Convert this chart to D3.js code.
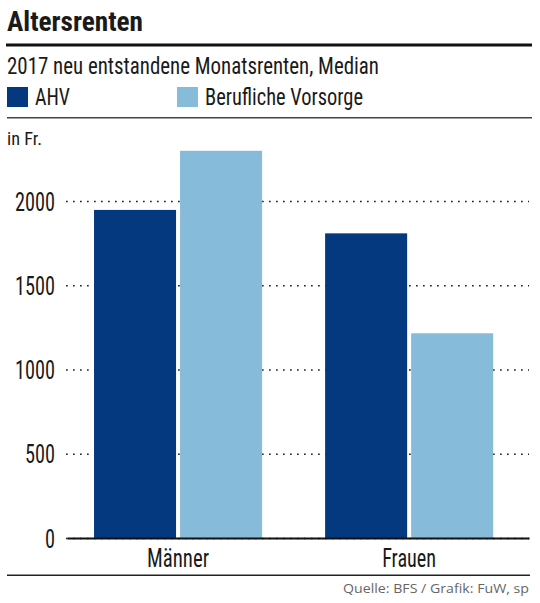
<!DOCTYPE html>
<html>
<head>
<meta charset="utf-8">
<script src="https://cdn.jsdelivr.net/npm/d3@7"></script>
<style>
  body { margin: 0; background: #fff; }
  svg { display: block; }
  .cond { font-family: "Liberation Sans Narrow", "Roboto Condensed", "Liberation Sans", Arial, sans-serif; fill: #1a1a1a; }
</style>
</head>
<body>
<svg id="chart" width="540" height="603"></svg>
<script>
// data
var groups = ["Männer", "Frauen"];
var series = ["AHV", "Berufliche Vorsorge"];
var ahvValues = [1947, 1808];
var bvValues = [2298, 1215];
var yTicks = [0, 500, 1000, 1500, 2000];
var colors = ["#04387f", "#86bbda"];

var svg = d3.select("#chart");

var params = {
  plot: { left: 67, right: 529, top: 201, bottom: 538 }
};

var rows = groups.map(function(g, i) {
  return { group: g, values: [
    { key: series[0], value: ahvValues[i] },
    { key: series[1], value: bvValues[i] }
  ]};
});

var scale = {
  x: d3.scaleBand()
    .domain(groups)
    .range([params.plot.left, params.plot.right])
    .paddingInner(0.2727)
    .paddingOuter(0.136)
    .align(0.43),
  y: d3.scaleLinear()
    .domain([0, 2000])
    .range([params.plot.bottom, params.plot.top]),
  color: d3.scaleOrdinal().domain(series).range(colors)
};
scale.x1 = d3.scaleBand()
  .domain(series)
  .range([0, scale.x.bandwidth()])
  .paddingInner(0.0465);

// header
svg.append("text")
  .attr("class", "cond")
  .attr("x", 7).attr("y", 31)
  .attr("font-size", 28).attr("font-weight", "bold")
  .attr("textLength", 136).attr("lengthAdjust", "spacingAndGlyphs")
  .text("Altersrenten");

svg.append("rect")
  .attr("x", 6).attr("y", 43.5).attr("width", 526).attr("height", 3)
  .attr("fill", "#111");

svg.append("text")
  .attr("class", "cond")
  .attr("x", 7).attr("y", 74)
  .attr("font-size", 24)
  .attr("textLength", 372).attr("lengthAdjust", "spacingAndGlyphs")
  .text("2017 neu entstandene Monatsrenten, Median");

// legend
var legendX = [7, 177];
var legendW = [35, 158];
var legend = svg.selectAll("g.legend")
  .data(series)
  .enter()
  .append("g")
  .attr("class", "legend")
  .attr("transform", function(d, i) { return "translate(" + legendX[i] + ",87)"; });

legend.append("rect")
  .attr("width", 21).attr("height", 20)
  .attr("fill", function(d) { return scale.color(d); });

legend.append("text")
  .attr("class", "cond")
  .attr("x", 28).attr("y", 18)
  .attr("font-size", 24)
  .attr("textLength", function(d, i) { return legendW[i]; })
  .attr("lengthAdjust", "spacingAndGlyphs")
  .text(function(d) { return d; });

svg.append("rect")
  .attr("x", 7).attr("y", 117).attr("width", 525).attr("height", 1.5)
  .attr("fill", "#444");

svg.append("text")
  .attr("class", "cond")
  .attr("x", 7).attr("y", 145)
  .attr("font-size", 18)
  .attr("textLength", 35).attr("lengthAdjust", "spacingAndGlyphs")
  .text("in Fr.");

// y axis with dotted grid
var gy = svg.append("g")
  .attr("transform", "translate(" + params.plot.left + ",0)")
  .call(d3.axisLeft(scale.y)
    .tickValues(yTicks)
    .tickSize(-(params.plot.right - params.plot.left))
    .tickPadding(12)
    .tickFormat(d3.format("d")));

gy.select(".domain").remove();
gy.selectAll(".tick line")
  .attr("stroke", "#222")
  .attr("stroke-width", 1.7)
  .attr("stroke-dasharray", "1.7,5.3")
  .attr("x1", -1);
gy.selectAll(".tick text")
  .attr("class", "cond")
  .attr("font-size", 25)
  .attr("dy", "0.36em")
  .attr("textLength", function(d) { return String(d).length * 10; })
  .attr("lengthAdjust", "spacingAndGlyphs");

// bars
var barGroups = svg.selectAll("g.group")
  .data(rows)
  .enter()
  .append("g")
  .attr("class", "group")
  .attr("transform", function(d) { return "translate(" + scale.x(d.group) + ",0)"; });

barGroups.selectAll("rect")
  .data(function(d) { return d.values; })
  .enter()
  .append("rect")
  .attr("x", function(d) { return scale.x1(d.key); })
  .attr("y", function(d) { return scale.y(d.value); })
  .attr("width", scale.x1.bandwidth())
  .attr("height", function(d) { return scale.y(0) - scale.y(d.value); })
  .attr("fill", function(d) { return scale.color(d.key); });

// x axis (baseline + category labels)
var labelW = { "Männer": 62, "Frauen": 54 };
var gx = svg.append("g")
  .attr("transform", "translate(0," + params.plot.bottom + ")")
  .call(d3.axisBottom(scale.x).tickSize(0).tickSizeOuter(0).tickPadding(11));

gx.select(".domain")
  .attr("stroke", "#111")
  .attr("stroke-width", 2);
gx.selectAll(".tick text")
  .attr("class", "cond")
  .attr("font-size", 25)
  .attr("dy", "0.71em")
  .attr("textLength", function(d) { return labelW[d]; })
  .attr("lengthAdjust", "spacingAndGlyphs");

// footer
svg.append("rect")
  .attr("x", 7).attr("y", 574.5).attr("width", 523).attr("height", 1.5)
  .attr("fill", "#222");

svg.append("text")
  .attr("x", 343).attr("y", 593)
  .attr("font-family", "'Open Sans', 'DejaVu Sans', sans-serif")
  .attr("font-size", 13)
  .attr("fill", "#666")
  .attr("textLength", 186).attr("lengthAdjust", "spacingAndGlyphs")
  .text("Quelle: BFS / Grafik: FuW, sp");
</script>
</body>
</html>
